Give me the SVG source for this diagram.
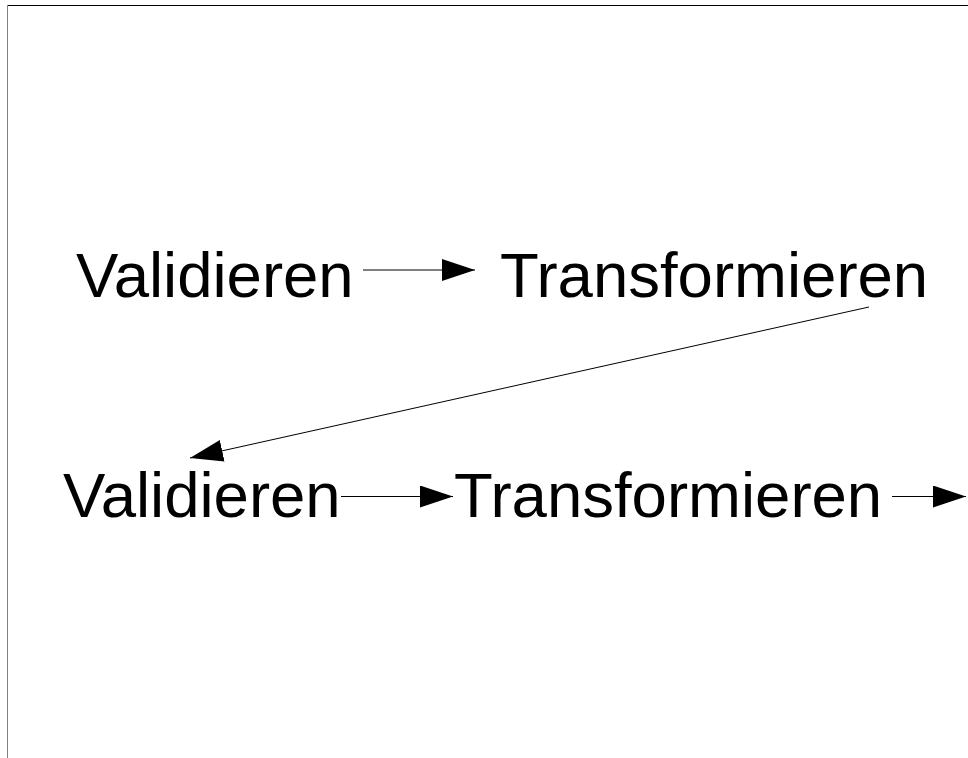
<svg xmlns="http://www.w3.org/2000/svg" width="968" height="758" viewBox="0 0 968 758">
  <style>
    .lbl { font-family: "Liberation Sans", Arial, sans-serif; font-size: 63.5px; fill: #000; }
    .edge { stroke: #000; stroke-width: 1; fill: none; marker-end: url(#head); }
  </style>
  <defs>
    <marker id="head" markerUnits="userSpaceOnUse" markerWidth="34" markerHeight="24" refX="33" refY="11" orient="auto">
      <path d="M0,0 L33,11 L0,22 Z" fill="#000"/>
    </marker>
  </defs>
  <rect width="968" height="758" fill="#fff"/>
  <!-- frame edges -->
  <line x1="7" y1="5.5" x2="968" y2="5.5" stroke="#000" stroke-width="1"/>
  <line x1="7.5" y1="5" x2="7.5" y2="758" stroke="#808080" stroke-width="1"/>

  <g id="validieren1"><text class="lbl" x="76" y="297">Validieren</text></g>
  <g id="transformieren1"><text class="lbl" x="500" y="297">Transformieren</text></g>
  <g id="validieren2"><text class="lbl" x="63" y="517">Validieren</text></g>
  <g id="transformieren2"><text class="lbl" x="454" y="517">Transformieren</text></g>

  <g id="connectors">
    <line class="edge" x1="363" y1="270" x2="475" y2="270"/>
    <line class="edge" x1="869" y1="307" x2="190" y2="458"/>
    <line class="edge" x1="341" y1="496.5" x2="453" y2="496.5"/>
    <line class="edge" x1="892" y1="496.5" x2="966" y2="496.5"/>
  </g>
</svg>
